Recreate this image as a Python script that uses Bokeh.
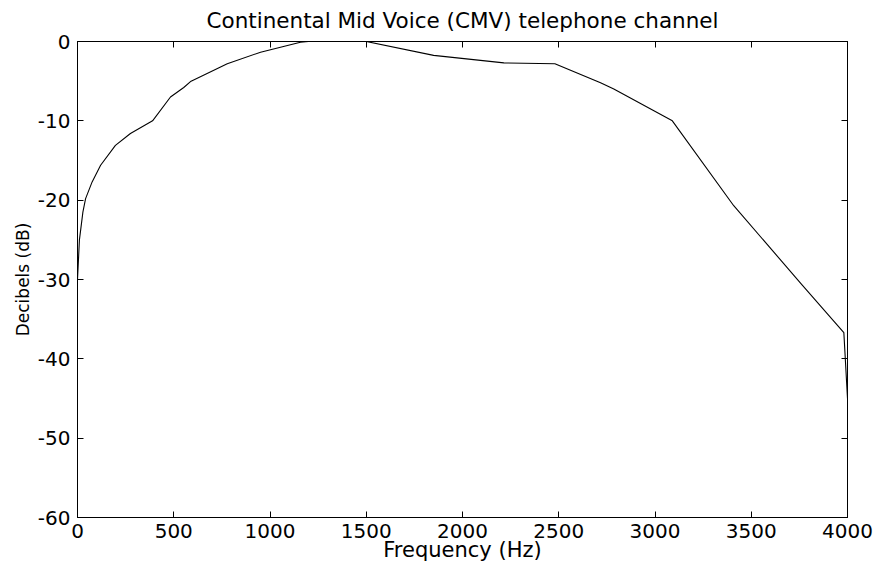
from bokeh.plotting import figure
from bokeh.models import LinearAxis, SingleIntervalTicker, Range1d, CustomJSTickFormatter
from bokeh.embed import file_html
from bokeh.resources import INLINE

# Data
freq_hz = [0, 10, 28, 42, 76, 120, 197, 275, 390, 483, 552, 590, 778, 951, 1158, 1200,
           1500, 1850, 2215, 2480, 2717, 2786, 3090, 3409, 3765, 3981, 4000]
gain_db = [-30, -25, -21.5, -19.8, -17.7, -15.6, -13.1, -11.6, -10.0, -7.0, -5.8, -5.0, -2.8,
           -1.35, -0.1, 0, 0, -1.75, -2.7, -2.8, -5.2, -6.0, -10.0, -20.7, -30.7, -36.7, -45]
x_ticks_step = 500
y_ticks_step = 10

FONT = "DejaVu Sans"

p = figure(width=877, height=567, output_backend="svg", toolbar_location=None,
           x_range=Range1d(0, 4000), y_range=Range1d(-60, 0),
           min_border_left=77, min_border_right=30, min_border_top=41, min_border_bottom=50,
           title="Continental Mid Voice (CMV) telephone channel")
p.title.align = "center"
p.title.text_font = FONT
p.title.text_font_size = "21.5px"
p.title.text_font_style = "normal"
p.title.text_color = "black"
p.title.standoff = 10
p.outline_line_color = "black"
p.outline_line_width = 1
p.xgrid.visible = False
p.ygrid.visible = False
p.background_fill_color = "white"

p.line(freq_hz, gain_db, line_color="black", line_width=1.1)

fmt = "return tick.toString();"
for ax, step in ((p.xaxis[0], x_ticks_step), (p.yaxis[0], y_ticks_step)):
    ax.ticker = SingleIntervalTicker(interval=step)
    ax.formatter = CustomJSTickFormatter(code=fmt)
    ax.major_tick_in = 6
    ax.major_tick_out = 0
    ax.minor_tick_line_color = None
    ax.axis_line_color = "black"
    ax.major_tick_line_color = "black"
    ax.major_label_text_font = FONT
    ax.major_label_text_font_size = "20px"
    ax.major_label_text_color = "black"
    ax.axis_label_text_font = FONT
    ax.axis_label_text_font_style = "normal"
    ax.axis_label_text_color = "black"

p.xaxis[0].axis_label = "Frequency (Hz)"
p.xaxis[0].axis_label_text_font_size = "21px"
p.xaxis[0].major_label_standoff = 2
p.xaxis[0].axis_label_standoff = -3
p.yaxis[0].axis_label = "Decibels (dB)"
p.yaxis[0].axis_label_text_font_size = "17px"
p.yaxis[0].major_label_standoff = 3
p.yaxis[0].axis_label_standoff = 2

top_ax = LinearAxis(ticker=SingleIntervalTicker(interval=x_ticks_step),
                    major_label_text_font_size="0px", major_label_text_color=None,
                    major_tick_in=6, major_tick_out=0,
                    major_label_standoff=0, minor_tick_line_color=None,
                    axis_line_color="black", major_tick_line_color="black")
right_ax = LinearAxis(ticker=SingleIntervalTicker(interval=y_ticks_step),
                      major_label_text_font_size="0px", major_label_text_color=None,
                      major_tick_in=6, major_tick_out=0,
                      major_label_standoff=0, minor_tick_line_color=None,
                      axis_line_color="black", major_tick_line_color="black")
p.add_layout(top_ax, "above")
p.add_layout(right_ax, "right")

open("out.html", "w").write(file_html(p, INLINE))
